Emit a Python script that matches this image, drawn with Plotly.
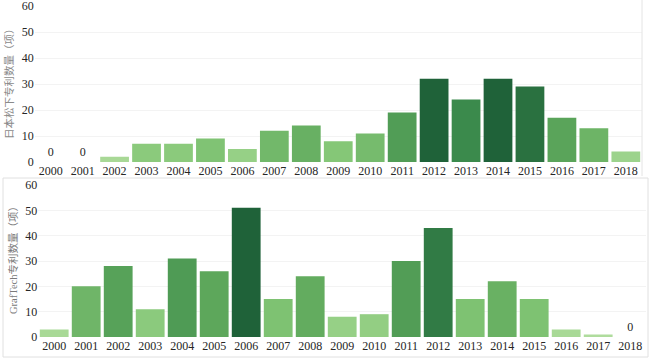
import plotly.graph_objects as go

years = [str(y) for y in range(2000, 2019)]
panasonic = [0, 0, 2, 7, 7, 9, 5, 12, 14, 8, 11, 19, 32, 24, 32, 29, 17, 13, 4]
graftech = [3, 20, 28, 11, 31, 26, 51, 15, 24, 8, 9, 30, 43, 15, 22, 15, 3, 1, 0]

title_top = "日本松下专利数量（项）"
title_bottom = "GrafTech专利数量（项）"
y_ticks = [0, 10, 20, 30, 40, 50, 60]

scale = [[0.0, "#b3dea0"], [0.25, "#85c777"], [0.5, "#5ea85c"], [0.75, "#3b8a4c"], [1.0, "#1f6239"]]

W, H = 652, 364
def px_x(p):
    return p / W
def px_y(p):
    return (H - p) / H

fig = go.Figure()

def zero_text(vals):
    return ["0" if v == 0 else "" for v in vals]

tick_font = dict(family="Liberation Serif, serif", size=12, color="#262626")

fig.add_trace(go.Bar(
    x=years, y=panasonic, xaxis="x", yaxis="y",
    marker=dict(color=panasonic, colorscale=scale, cmin=0, cmax=max(panasonic),
                line=dict(width=0)),
    text=zero_text(panasonic), textposition="outside", cliponaxis=False,
    textfont=tick_font, showlegend=False,
))
fig.add_trace(go.Bar(
    x=years, y=graftech, xaxis="x2", yaxis="y2",
    marker=dict(color=graftech, colorscale=scale, cmin=0, cmax=max(graftech),
                line=dict(width=0)),
    text=zero_text(graftech), textposition="outside", cliponaxis=False,
    textfont=tick_font, showlegend=False,
))

axis_common = dict(showgrid=False, zeroline=False, ticks="", tickfont=tick_font,
                   showline=False, fixedrange=True, automargin=False,
                   ticklabeloverflow="allow")
yaxis_common = dict(range=[0, 60], tickvals=y_ticks, showgrid=True, gridcolor="#f3f3f3",
                    gridwidth=1, zeroline=False, ticks="", tickfont=tick_font,
                    showline=False, automargin=False, ticklabeloverflow="allow")

fig.update_layout(
    width=W, height=H,
    margin=dict(l=0, r=0, t=0, b=0),
    paper_bgcolor="white", plot_bgcolor="white",
    bargap=0.1,
    xaxis=dict(domain=[px_x(34.7), px_x(641.8)], anchor="y", **axis_common),
    yaxis=dict(domain=[px_y(162), px_y(6)], anchor="x", **yaxis_common),
    xaxis2=dict(domain=[px_x(38.2), px_x(646.2)], anchor="y2", **axis_common),
    yaxis2=dict(domain=[px_y(337), px_y(185)], anchor="x2", **yaxis_common),
    annotations=[
        dict(text=title_top, x=px_x(9), y=px_y(81), xref="paper", yref="paper",
             textangle=-90, showarrow=False, xanchor="center", yanchor="middle",
             font=dict(family="Liberation Serif, Noto Sans CJK SC", size=10.5, color="#8a8a8a")),
        dict(text=title_bottom, x=px_x(13), y=px_y(258), xref="paper", yref="paper",
             textangle=-90, showarrow=False, xanchor="center", yanchor="middle",
             font=dict(family="Liberation Serif, Noto Sans CJK SC", size=10.5, color="#7a7a7a")),
    ],
    shapes=[
        dict(type="line", xref="paper", yref="paper", x0=px_x(642), x1=px_x(642),
             y0=px_y(0), y1=px_y(176), line=dict(color="#e4e4e4", width=1)),
        dict(type="rect", xref="paper", yref="paper", x0=px_x(3), x1=px_x(648),
             y0=px_y(357), y1=px_y(178), line=dict(color="#e0e0e0", width=1)),
    ],
)

fig.write_html("out.html", config={"displayModeBar": False},
               post_script="document.body.style.margin='0';")
